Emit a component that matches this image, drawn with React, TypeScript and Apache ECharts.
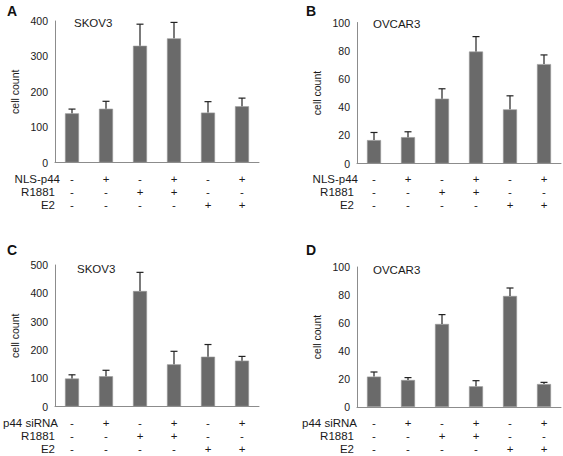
import React, { useEffect, useRef } from "react";
import * as echarts from "echarts";

const categories = ["1", "2", "3", "4", "5", "6"];

const rowNls = ["-", "+", "-", "+", "-", "+"];
const rowSi = ["-", "+", "-", "+", "-", "+"];
const rowR1881 = ["-", "-", "+", "+", "-", "-"];
const rowE2 = ["-", "-", "-", "-", "+", "+"];

const skov3NlsMean = [139, 152, 330, 351, 141, 159];
const skov3NlsErr = [12, 21, 61, 45, 31, 23];
const ovcar3NlsMean = [16.6, 18.7, 46, 79.4, 38.4, 70.5];
const ovcar3NlsErr = [5.4, 3.8, 7, 10.6, 9.6, 6.5];
const skov3SiMean = [99, 107, 408, 149, 176, 162];
const skov3SiErr = [13, 21, 66, 46, 43, 15];
const ovcar3SiMean = [21.7, 19.3, 59.3, 14.8, 79.3, 16.4];
const ovcar3SiErr = [3.3, 1.7, 6.7, 4, 5.7, 1.2];

const FONT = "'Liberation Sans', Arial, sans-serif";
const TXT = "#1a1a1a";
const AXIS = "#8c8c8c";
const BAR = "#6a6a6a";

type Panel = {
  letter: string;
  cell: string;
  mean: number[];
  err: number[];
  max: number;
  interval: number;
  grid: { left: number; top: number; width: number; height: number };
  rows: { label: string; signs: string[]; offset: number; gap: number }[];
};

const panels: Panel[] = [
  {
    letter: "A",
    cell: "SKOV3",
    mean: skov3NlsMean,
    err: skov3NlsErr,
    max: 400,
    interval: 100,
    grid: { left: 55, top: 21, width: 204, height: 141.5 },
    rows: [
      { label: "NLS-p44", signs: rowNls, offset: 16, gap: -5 },
      { label: "R1881", signs: rowR1881, offset: 29, gap: 0 },
      { label: "E2", signs: rowE2, offset: 42, gap: 0 },
    ],
  },
  {
    letter: "B",
    cell: "OVCAR3",
    mean: ovcar3NlsMean,
    err: ovcar3NlsErr,
    max: 100,
    interval: 20,
    grid: { left: 357, top: 22.5, width: 204, height: 141 },
    rows: [
      { label: "NLS-p44", signs: rowNls, offset: 15, gap: -1 },
      { label: "R1881", signs: rowR1881, offset: 28, gap: 3 },
      { label: "E2", signs: rowE2, offset: 41, gap: 3 },
    ],
  },
  {
    letter: "C",
    cell: "SKOV3",
    mean: skov3SiMean,
    err: skov3SiErr,
    max: 500,
    interval: 100,
    grid: { left: 55, top: 265, width: 204, height: 141.5 },
    rows: [
      { label: "p44 siRNA", signs: rowSi, offset: 16, gap: -3 },
      { label: "R1881", signs: rowR1881, offset: 29, gap: 0 },
      { label: "E2", signs: rowE2, offset: 42, gap: 0 },
    ],
  },
  {
    letter: "D",
    cell: "OVCAR3",
    mean: ovcar3SiMean,
    err: ovcar3SiErr,
    max: 100,
    interval: 20,
    grid: { left: 357, top: 267, width: 204, height: 140 },
    rows: [
      { label: "p44 siRNA", signs: rowSi, offset: 15.5, gap: 0 },
      { label: "R1881", signs: rowR1881, offset: 28.5, gap: 3 },
      { label: "E2", signs: rowE2, offset: 41.5, gap: 3 },
    ],
  },
];

function buildOption() {
  const grid: any[] = [];
  const xAxis: any[] = [];
  const yAxis: any[] = [];
  const series: any[] = [];
  const title: any[] = [];

  panels.forEach((p, gi) => {
    grid.push({ ...p.grid, containLabel: false });
    const mainIndex = xAxis.length;
    xAxis.push({
      type: "category",
      gridIndex: gi,
      data: categories,
      axisLine: { show: true, lineStyle: { color: AXIS, width: 1 } },
      axisTick: { show: false },
      axisLabel: { show: false },
      splitLine: { show: false },
    });
    p.rows.forEach((r) => {
      xAxis.push({
        type: "category",
        gridIndex: gi,
        position: "bottom",
        offset: r.offset,
        data: r.signs,
        axisLine: { show: false },
        axisTick: { show: false },
        splitLine: { show: false },
        axisLabel: {
          show: true,
          interval: 0,
          margin: 0,
          verticalAlign: "middle",
          fontSize: 11.5,
          lineHeight: 10,
          fontFamily: FONT,
          color: TXT,
        },
        name: r.label,
        nameLocation: "start",
        nameGap: r.gap,
        nameTextStyle: { fontSize: 11.5, lineHeight: 10, fontFamily: FONT, color: TXT },
      });
    });
    yAxis.push({
      type: "value",
      gridIndex: gi,
      min: 0,
      max: p.max,
      interval: p.interval,
      axisLine: { show: true, lineStyle: { color: AXIS, width: 1 } },
      axisTick: { show: false },
      splitLine: { show: false },
      axisLabel: { margin: 7, fontSize: 10.5, fontFamily: FONT, color: TXT },
      name: "cell count",
      nameLocation: "middle",
      nameRotate: 90,
      nameGap: 35,
      nameTextStyle: { fontSize: 10.5, fontFamily: FONT, color: TXT },
    });
    series.push({
      type: "bar",
      xAxisIndex: mainIndex,
      yAxisIndex: gi,
      data: p.mean,
      barWidth: 14,
      itemStyle: { color: BAR, borderColor: "#9a9a9a", borderWidth: 0.6 },
      z: 2,
    });
    series.push({
      type: "custom",
      xAxisIndex: mainIndex,
      yAxisIndex: gi,
      z: 3,
      data: p.mean.map((m, i) => [i, m, m + p.err[i]]),
      renderItem: (params: any, api: any) => {
        const x = api.value(0);
        const p0 = api.coord([x, api.value(1)]);
        const p1 = api.coord([x, api.value(2)]);
        const hw = 3.5;
        return {
          type: "group",
          children: [
            {
              type: "line",
              shape: { x1: p0[0], y1: p0[1], x2: p1[0], y2: p1[1] },
              style: { stroke: "#222", lineWidth: 1.2 },
            },
            {
              type: "line",
              shape: { x1: p1[0] - hw, y1: p1[1], x2: p1[0] + hw, y2: p1[1] },
              style: { stroke: "#222", lineWidth: 1.2 },
            },
          ],
        };
      },
    });
  });

  const letterPos = [
    { left: 7, top: 4 },
    { left: 306, top: 4 },
    { left: 7, top: 243 },
    { left: 306, top: 243 },
  ];
  const cellPos = [
    { left: 74, top: 17 },
    { left: 373, top: 18 },
    { left: 77, top: 263 },
    { left: 373, top: 264 },
  ];
  panels.forEach((p, i) => {
    title.push({
      text: p.letter,
      ...letterPos[i],
      padding: 0,
      textStyle: { fontSize: 14, fontWeight: "bold", fontFamily: FONT, color: "#111" },
    });
    title.push({
      text: p.cell,
      ...cellPos[i],
      padding: 0,
      textStyle: { fontSize: 11.5, fontWeight: "normal", fontFamily: FONT, color: TXT },
    });
  });

  return {
    animation: false,
    backgroundColor: "#ffffff",
    title,
    grid,
    xAxis,
    yAxis,
    series,
  };
}

export default function App() {
  const ref = useRef<HTMLDivElement>(null);
  useEffect(() => {
    document.body.style.margin = "0";
    if (!ref.current) return;
    const chart = echarts.init(ref.current, undefined, { renderer: "svg" });
    chart.setOption(buildOption() as any);
    return () => chart.dispose();
  }, []);
  return <div ref={ref} style={{ width: 563, height: 456 }} />;
}
